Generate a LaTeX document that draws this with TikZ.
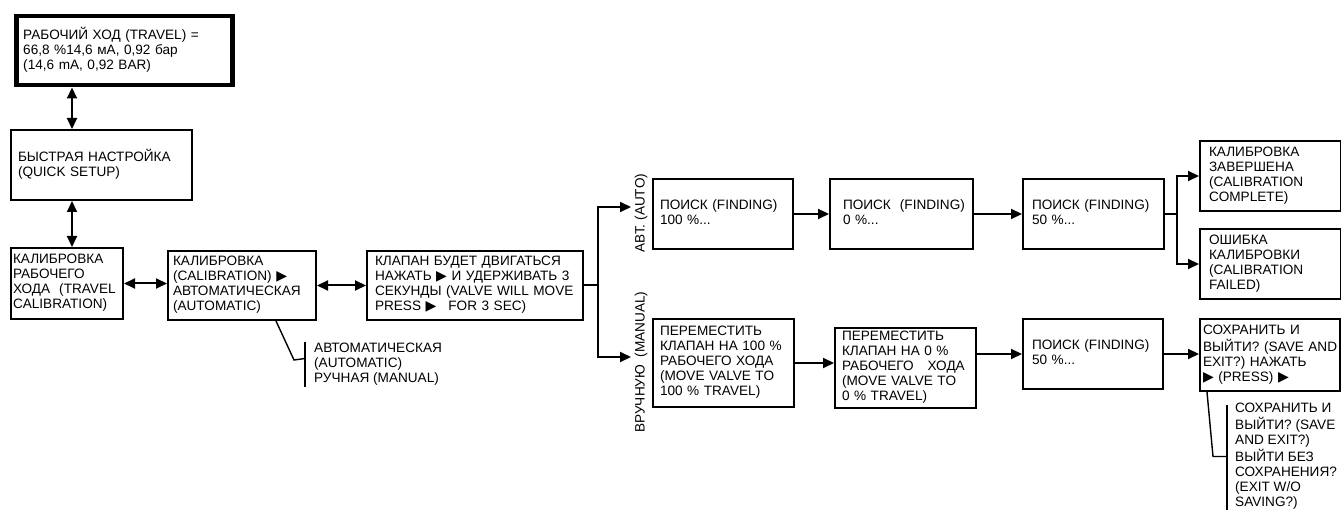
\documentclass[tikz,border=0pt]{standalone}
\usepackage{fontspec}
\setmainfont{Liberation Sans}
\newfontfamily\symfont{DejaVu Sans}
\usetikzlibrary{arrows.meta}
\newcommand{\presstri}{{\symfont\fontsize{14}{14}\selectfont ▶}}
\newcommand{\rows}[1]{\begin{tabular}{@{}l@{}}#1\end{tabular}}

\begin{document}
\begin{tikzpicture}[x=1pt,y=-1pt]
\tikzset{
  stepbox/.style={draw,line width=2pt,anchor=north west,align=left,inner ysep=0pt,font=\fontsize{13.6}{15}\selectfont},
  menubox/.style={align=left,inner xsep=9pt,inner ysep=0pt,font=\fontsize{13.6}{15}\selectfont},
  flow/.style={line width=2pt},
  arrow/.style={flow,-{Triangle[length=11pt,width=10pt]}},
  both/.style={flow,{Triangle[length=11pt,width=10pt]}-{Triangle[length=11pt,width=10pt]}},
  leader/.style={line width=1.4pt},
  sidelabel/.style={rotate=90,inner sep=0pt,font=\fontsize{13.6}{15}\selectfont}
}
\useasboundingbox (0,0) rectangle (1341,510);
% left column
\node[stepbox,line width=4.5pt,inner xsep=7pt,text width=202pt,minimum height=69pt] (travel) at (14,14)
  {\rows{РАБОЧИЙ ХОД (TRAVEL) = \\ 66,8 \%14,6 мА, 0,92 бар \\ (14,6 mA, 0,92 BAR)}};
\node[stepbox,inner xsep=7pt,text width=167pt,minimum height=70pt] (quick) at (10,129)
  {\rows{БЫСТРАЯ НАСТРОЙКА \\ (QUICK SETUP)}};
\node[stepbox,inner xsep=2pt,text width=108pt,minimum height=71pt] (travcal) at (10,247)
  {\rows{КАЛИБРОВКА \\ РАБОЧЕГО \\ ХОДА\ \ (TRAVEL \\ CALIBRATION)}};
\node[stepbox,inner xsep=5pt,text width=138pt,minimum height=69pt] (calib) at (167,250)
  {\rows{КАЛИБРОВКА \\ (CALIBRATION) \presstri \\ АВТОМАТИЧЕСКАЯ \\ (AUTOMATIC)}};
\node[stepbox,inner xsep=8pt,text width=200pt,minimum height=69pt] (valve) at (366,250)
  {\rows{КЛАПАН БУДЕТ ДВИГАТЬСЯ \\ НАЖАТЬ \presstri\ И УДЕРЖИВАТЬ 3 \\ СЕКУНДЫ (VALVE WILL MOVE \\ PRESS \presstri\hspace{12pt}FOR 3 SEC)}};
\node[menubox,anchor=west] (calibopts) at (305,364.5)
  {\rows{АВТОМАТИЧЕСКАЯ \\ (AUTOMATIC) \\ РУЧНАЯ (MANUAL)}};
% auto branch
\node[sidelabel] (autolbl) at (641,213) {АВТ. (AUTO)};
\node[stepbox,inner xsep=7pt,text width=126pt,minimum height=70pt] (find100) at (652,178)
  {\rows{ПОИСК (FINDING) \\ 100 \%...}};
\node[stepbox,inner xsep=13pt,text width=117pt,minimum height=70pt] (find0) at (829,178)
  {\rows{ПОИСК\ \ (FINDING) \\ 0 \%...}};
\node[stepbox,inner xsep=9pt,text width=123pt,minimum height=70pt] (findmid) at (1022,178)
  {\rows{ПОИСК (FINDING) \\ 50 \%...}};
\node[stepbox,inner xsep=9pt,text width=123pt,minimum height=70pt] (complete) at (1199,140)
  {\rows{КАЛИБРОВКА \\ ЗАВЕРШЕНА \\ (CALIBRATION \\ COMPLETE)}};
\node[stepbox,inner xsep=9pt,text width=123pt,minimum height=70pt] (failed) at (1199,228)
  {\rows{ОШИБКА \\ КАЛИБРОВКИ \\ (CALIBRATION \\ FAILED)}};
% manual branch
\node[sidelabel] (manlbl) at (641,362) {ВРУЧНУЮ\ \ (MANUAL)};
\node[stepbox,inner xsep=7pt,text width=127pt,minimum height=88pt] (move100) at (652,318)
  {\rows{ПЕРЕМЕСТИТЬ \\ КЛАПАН НА 100 \% \\ РАБОЧЕГО ХОДА \\ (MOVE VALVE TO \\ 100 \% TRAVEL)}};
\node[stepbox,inner xsep=7pt,text width=127pt,minimum height=80pt] (move0) at (834,327)
  {\rows{ПЕРЕМЕСТИТЬ \\ КЛАПАН НА 0 \% \\ РАБОЧЕГО\hspace{14pt}ХОДА \\ (MOVE VALVE TO \\ 0 \% TRAVEL)}};
\node[stepbox,inner xsep=9pt,text width=122pt,minimum height=70pt] (findman) at (1022,318)
  {\rows{ПОИСК (FINDING) \\ 50 \%...}};
\node[stepbox,inner xsep=3pt,text width=134pt,minimum height=72pt] (save) at (1199,318)
  {\rows{СОХРАНИТЬ И \\ ВЫЙТИ? (SAVE AND \\ EXIT?) НАЖАТЬ \\ \presstri\ (PRESS) \presstri}};
\node[menubox,anchor=north west,inner xsep=8pt] (saveopts) at (1227,402)
  {\rows{СОХРАНИТЬ И \\ ВЫЙТИ? (SAVE \\ AND EXIT?) \\ ВЫЙТИ БЕЗ \\ СОХРАНЕНИЯ? \\ (EXIT W/O \\ SAVING?)}};
% connectors
\coordinate (spine) at (72,0);
\coordinate (autoin) at (631,207);
\coordinate (manin) at (631,357);
\draw[both] (travel.south -| spine) -- (quick.north -| spine);
\draw[both] (quick.south -| spine) -- (travcal.north -| spine);
\draw[both] (travcal.east) -- (travcal.east -| calib.west);
\draw[both] (calib.east) -- (valve.west);
\draw[flow] (valve.east) -- ++(14,0) coordinate (fork);
\draw[arrow] (fork) |- (autoin);
\draw[arrow] (fork) |- (manin);
\draw[arrow] (find100) -- (find0);
\draw[arrow] (find0) -- (findmid);
\draw[flow] (findmid.east) -- ++(12,0) coordinate (split);
\draw[arrow] (split) |- (complete.west);
\draw[arrow] (split) |- (failed.west);
\draw[arrow] (move100.east) -- (move100.east -| move0.west);
\draw[arrow] (move0.east |- findman.west) -- (findman.west);
\draw[arrow] (findman.east) -- (findman.east -| save.west);
% option lists
\draw[leader] ([xshift=34pt]calib.south) -- ++(18,39) -- ([yshift=6pt]calibopts.west);
\draw[leader] (calibopts.north west) -- (calibopts.south west);
\draw[leader] ([xshift=8pt]save.south west) -- ++(6,64.5) -- (saveopts.west);
\draw[leader] ([yshift=-3pt]saveopts.north west) -- ([yshift=-6pt]saveopts.south west);
\end{tikzpicture}
\end{document}
